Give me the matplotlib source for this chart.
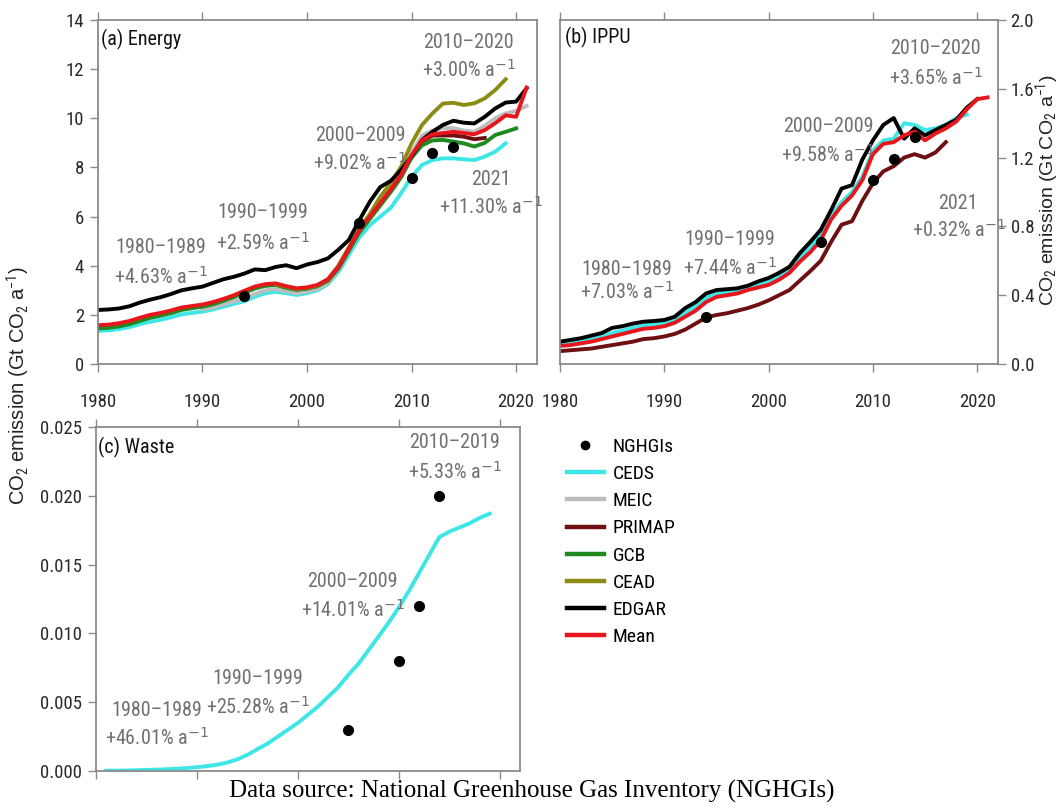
import matplotlib
matplotlib.use("Agg")
import matplotlib.pyplot as plt
from matplotlib import font_manager
from matplotlib.lines import Line2D

# data
years_all = list(range(1980, 2022))

# (a) Energy, Gt CO2 / yr
energy_edgar = [2.20, 2.22, 2.26, 2.35, 2.50, 2.62, 2.72, 2.85, 3.00, 3.08,
                3.15, 3.30, 3.45, 3.55, 3.68, 3.85, 3.82, 3.95, 4.02, 3.90,
                4.05, 4.15, 4.30, 4.65, 5.05, 5.85, 6.60, 7.20, 7.45, 7.90,
                8.45, 9.12, 9.45, 9.73, 9.90, 9.82, 9.79, 10.06, 10.40, 10.64,
                10.68, 11.22]
energy_mean = [1.58, 1.60, 1.66, 1.75, 1.88, 2.00, 2.08, 2.18, 2.30, 2.36,
               2.42, 2.52, 2.65, 2.80, 2.98, 3.15, 3.25, 3.28, 3.17, 3.08,
               3.12, 3.22, 3.45, 3.95, 4.70, 5.45, 6.00, 6.55, 7.10, 7.70,
               8.50, 9.10, 9.35, 9.40, 9.45, 9.40, 9.35, 9.52, 9.80, 10.12,
               10.06, 11.25]
energy_ceds = [1.35, 1.37, 1.42, 1.50, 1.62, 1.72, 1.80, 1.90, 2.02, 2.08,
               2.13, 2.22, 2.33, 2.45, 2.55, 2.74, 2.88, 2.94, 2.88, 2.81,
               2.88, 3.00, 3.25, 3.75, 4.45, 5.15, 5.65, 6.00, 6.35, 6.95,
               7.62, 8.10, 8.30, 8.37, 8.37, 8.33, 8.30, 8.44, 8.64, 8.98]
energy_meic_years = list(range(1990, 2022))
energy_meic = [2.22, 2.30, 2.42, 2.55, 2.67, 2.85, 3.00, 3.05, 2.95, 2.88,
               2.95, 3.05, 3.30, 3.85, 4.60, 5.35, 5.95, 6.50, 7.05, 7.70,
               8.60, 9.30, 9.50, 9.60, 9.60, 9.50, 9.45, 9.70, 10.00, 10.20,
               10.30, 10.50]
energy_primap = [1.55, 1.58, 1.63, 1.72, 1.85, 1.97, 2.05, 2.15, 2.27, 2.33,
                 2.38, 2.48, 2.62, 2.76, 2.94, 3.10, 3.20, 3.24, 3.12, 3.03,
                 3.08, 3.18, 3.40, 3.90, 4.65, 5.40, 5.95, 6.50, 7.05, 7.65,
                 8.45, 9.05, 9.30, 9.30, 9.30, 9.25, 9.15, 9.20]
energy_gcb = [1.45, 1.47, 1.53, 1.62, 1.75, 1.88, 1.97, 2.07, 2.20, 2.27,
              2.33, 2.43, 2.57, 2.72, 2.90, 3.07, 3.18, 3.22, 3.10, 3.02,
              3.07, 3.17, 3.40, 3.90, 4.62, 5.35, 5.90, 6.45, 7.00, 7.60,
              8.40, 8.90, 9.10, 9.12, 9.05, 8.98, 8.85, 9.00, 9.32, 9.45,
              9.59]
energy_cead_years = list(range(1997, 2020))
energy_cead = [3.25, 3.15, 3.05, 3.10, 3.20, 3.45, 4.00, 4.75, 5.50, 6.10,
               6.80, 7.36, 8.03, 8.98, 9.73, 10.20, 10.60, 10.63, 10.54, 10.61,
               10.81, 11.15, 11.59]
energy_nghgi_years = [1994, 2005, 2010, 2012, 2014]
energy_nghgi = [2.75, 5.73, 7.55, 8.60, 8.85]

# (b) IPPU
ippu_edgar = [0.13, 0.14, 0.15, 0.165, 0.18, 0.21, 0.22, 0.235, 0.246, 0.25,
              0.256, 0.275, 0.325, 0.36, 0.41, 0.43, 0.435, 0.44, 0.455, 0.48,
              0.50, 0.53, 0.565, 0.645, 0.71, 0.78, 0.895, 1.02, 1.04, 1.19,
              1.30, 1.39, 1.43, 1.31, 1.37, 1.33, 1.36, 1.39, 1.42, 1.49,
              1.54]
ippu_mean = [0.105, 0.11, 0.12, 0.13, 0.145, 0.16, 0.175, 0.19, 0.205, 0.21,
             0.22, 0.24, 0.275, 0.31, 0.36, 0.39, 0.40, 0.41, 0.43, 0.445,
             0.46, 0.49, 0.53, 0.595, 0.65, 0.72, 0.84, 0.92, 0.98, 1.07,
             1.22, 1.28, 1.29, 1.33, 1.35, 1.30, 1.34, 1.37, 1.41, 1.48,
             1.54, 1.55]
ippu_ceds = [0.12, 0.125, 0.135, 0.145, 0.16, 0.18, 0.195, 0.21, 0.225, 0.23,
             0.24, 0.26, 0.30, 0.335, 0.385, 0.41, 0.42, 0.43, 0.445, 0.46,
             0.48, 0.51, 0.55, 0.62, 0.68, 0.75, 0.86, 0.94, 1.00, 1.09,
             1.24, 1.30, 1.31, 1.40, 1.39, 1.36, 1.37, 1.39, 1.43, 1.45]
ippu_primap = [0.075, 0.08, 0.085, 0.09, 0.10, 0.11, 0.12, 0.13, 0.145, 0.15,
               0.16, 0.175, 0.20, 0.235, 0.27, 0.285, 0.295, 0.31, 0.325, 0.345,
               0.37, 0.40, 0.43, 0.485, 0.54, 0.60, 0.71, 0.81, 0.83, 0.95,
               1.05, 1.12, 1.15, 1.20, 1.22, 1.20, 1.23, 1.29]
ippu_nghgi_years = [1994, 2005, 2010, 2012, 2014]
ippu_nghgi = [0.275, 0.71, 1.07, 1.19, 1.32]

# (c) Waste
waste_years = list(range(1981, 2020))
waste_ceds = [0.00002, 0.00003, 0.00004, 0.00006, 0.00008, 0.0001, 0.00013,
              0.00017, 0.00022, 0.00028, 0.00036, 0.00046, 0.00062, 0.00085,
              0.00118, 0.0016, 0.0020, 0.0025, 0.0030, 0.0035, 0.0041, 0.0047,
              0.0054, 0.0061, 0.0070, 0.0078, 0.0088, 0.0098, 0.0108, 0.0119,
              0.0131, 0.0144, 0.0157, 0.0170, 0.0174, 0.0177, 0.0180, 0.0184,
              0.0187]
waste_nghgi_years = [2005, 2010, 2012, 2014]
waste_nghgi = [0.003, 0.008, 0.012, 0.020]

# growth-rate notes: (period, rate)
notes_a = [("1980\u20131989", "+4.63%"), ("1990\u20131999", "+2.59%"),
           ("2000\u20132009", "+9.02%"), ("2010\u20132020", "+3.00%"),
           ("2021", "+11.30%")]
notes_b = [("1980\u20131989", "+7.03%"), ("1990\u20131999", "+7.44%"),
           ("2000\u20132009", "+9.58%"), ("2010\u20132020", "+3.65%"),
           ("2021", "+0.32%")]
notes_c = [("1980\u20131989", "+46.01%"), ("1990\u20131999", "+25.28%"),
           ("2000\u20132009", "+14.01%"), ("2010\u20132019", "+5.33%")]

legend_labels = ["NGHGIs", "CEDS", "MEIC", "PRIMAP", "GCB", "CEAD", "EDGAR", "Mean"]
colors = {"CEDS": "#3ee6e6", "MEIC": "#bdbdbd", "PRIMAP": "#6e0f12",
          "GCB": "#1f8a1f", "CEAD": "#8c8c14", "EDGAR": "#000000",
          "Mean": "#e8161c"}

# look for a narrow / condensed sans face, the reference uses one
narrow = None
for want in ["Liberation Sans Narrow", "Arial Narrow", "Roboto Condensed",
             "Noto Sans", "Open Sans", "Roboto", "Inter"]:
    for f in font_manager.fontManager.ttflist:
        if f.style != "normal" or f.weight not in (400, "normal", "regular"):
            continue
        cond = f.stretch in ("condensed", "semi-condensed") or "Narrow" in f.name \
            or "Condensed" in f.name
        if f.name.startswith(want) and cond:
            narrow = f
            break
    if narrow is not None:
        break

if narrow is not None:
    base_font = font_manager.FontProperties(fname=narrow.fname)
    plt.rcParams["mathtext.rm"] = ":file=" + narrow.fname
    SCALE = 1.0
else:
    base_font = font_manager.FontProperties(family="Liberation Sans")
    plt.rcParams["mathtext.rm"] = "Liberation Sans"
    SCALE = 0.88
plt.rcParams["font.family"] = ["Liberation Sans", "DejaVu Sans"]
plt.rcParams["mathtext.fontset"] = "custom"
plt.rcParams["mathtext.it"] = plt.rcParams["mathtext.rm"]


def fp(size):
    p = base_font.copy()
    p.set_size(size * SCALE)
    return p


NOTE_C = "#707070"
SPINE_C = "#8a8a8a"
LW = 2.8

fig = plt.figure(figsize=(10.59, 8.10), dpi=100)
ax_a = fig.add_axes([0.0925, 0.5506, 0.4146, 0.4247])
ax_b = fig.add_axes([0.5288, 0.5506, 0.4136, 0.4247])
ax_c = fig.add_axes([0.0907, 0.0481, 0.4004, 0.4247])


def style(ax):
    for s in ax.spines.values():
        s.set_color(SPINE_C)
        s.set_linewidth(1.3)
    ax.set_xlim(1980, 2022)
    ax.set_xticks(range(1980, 2021, 10))
    ax.tick_params(axis="both", direction="out", length=6, width=1,
                   color=SPINE_C, labelcolor="#2a2a2a")
    ax.tick_params(axis="x", top=True, pad=15)
    ax.tick_params(axis="y", pad=4)
    for lab in ax.get_xticklabels() + ax.get_yticklabels():
        lab.set_fontproperties(fp(13.5))


def note(ax, x, y1, y2, head, rate):
    ax.text(x, y1, head, ha="center", va="center", fontproperties=fp(14.5), color=NOTE_C)
    ax.text(x, y2, rate + r" a$^{-1}$", ha="center", va="center",
            fontproperties=fp(14.5), color=NOTE_C)


# (a) Energy
ax_a.plot(years_all[:40], energy_ceds, color=colors["CEDS"], lw=LW)
ax_a.plot(energy_meic_years, energy_meic, color=colors["MEIC"], lw=LW)
ax_a.plot(years_all[:38], energy_primap, color=colors["PRIMAP"], lw=LW)
ax_a.plot(years_all[:41], energy_gcb, color=colors["GCB"], lw=LW)
ax_a.plot(energy_cead_years, energy_cead, color=colors["CEAD"], lw=LW)
ax_a.plot(years_all, energy_edgar, color=colors["EDGAR"], lw=LW)
ax_a.plot(years_all, energy_mean, color=colors["Mean"], lw=LW)
ax_a.plot(energy_nghgi_years, energy_nghgi, "o", color="black", ms=7, zorder=5)
ax_a.set_ylim(0, 14)
ax_a.set_yticks(range(0, 15, 2))
style(ax_a)
ax_a.text(0.006, 0.942, "(a) Energy", transform=ax_a.transAxes, fontproperties=fp(14.5),
          va="center", color="#111111")
for (head, rate), (x, y1, y2) in zip(notes_a, [(1986.0, 4.76, 3.54), (1995.8, 6.15, 4.92),
                                               (2005.1, 9.32, 8.18), (2015.45, 13.1, 11.97),
                                               (2017.6, 7.49, 6.39)]):
    note(ax_a, x, y1, y2, head, rate)

# (b) IPPU
ax_b.plot(years_all[:40], ippu_ceds, color=colors["CEDS"], lw=LW)
ax_b.plot(years_all[:38], ippu_primap, color=colors["PRIMAP"], lw=LW)
ax_b.plot(years_all[:41], ippu_edgar, color=colors["EDGAR"], lw=LW)
ax_b.plot(years_all, ippu_mean, color=colors["Mean"], lw=LW)
ax_b.plot(ippu_nghgi_years, ippu_nghgi, "o", color="black", ms=7, zorder=5)
ax_b.set_ylim(0, 2.0)
ax_b.set_yticks([0.0, 0.4, 0.8, 1.2, 1.6, 2.0])
ax_b.set_yticklabels(["%.1f" % v for v in [0.0, 0.4, 0.8, 1.2, 1.6, 2.0]])
ax_b.yaxis.tick_right()
style(ax_b)
ax_b.tick_params(axis="y", left=False, right=True, labelleft=False, labelright=True,
                 pad=3)
ax_b.text(0.011, 0.95, "(b) IPPU", transform=ax_b.transAxes, fontproperties=fp(14.5),
          va="center", color="#111111")
for (head, rate), (x, y1, y2) in zip(notes_b, [(1986.4, 0.547, 0.419), (1996.3, 0.721, 0.558),
                                               (2005.7, 1.378, 1.215), (2016.0, 1.837, 1.663),
                                               (2018.2, 0.936, 0.779)]):
    note(ax_b, x, y1, y2, head, rate)

# (c) Waste
ax_c.plot(waste_years, waste_ceds, color=colors["CEDS"], lw=LW)
ax_c.plot(waste_nghgi_years, waste_nghgi, "o", color="black", ms=7, zorder=5)
ax_c.set_ylim(0, 0.025)
ax_c.set_yticks([0.0, 0.005, 0.010, 0.015, 0.020, 0.025])
ax_c.set_yticklabels(["%.3f" % v for v in [0.0, 0.005, 0.010, 0.015, 0.020, 0.025]])
style(ax_c)
ax_c.tick_params(axis="x", labelbottom=False)
ax_c.text(0.004, 0.942, "(c) Waste", transform=ax_c.transAxes, fontproperties=fp(14.5),
          va="center", color="#111111")
for (head, rate), (x, y1, y2) in zip(notes_c, [(1986.05, 0.00443, 0.0024), (1996.0, 0.00676, 0.00465),
                                               (2005.4, 0.01374, 0.0117), (2015.5, 0.02384, 0.02173)]):
    note(ax_c, x, y1, y2, head, rate)

# legend
handles = [Line2D([], [], ls="none", marker="o", color="black", ms=6)]
for name in legend_labels[1:]:
    handles.append(Line2D([], [], color=colors[name], lw=3.2))
fig.legend(handles, legend_labels, loc="upper left",
           bbox_to_anchor=(567 / 1059, 1 - 438 / 810), frameon=False,
           prop=fp(14), handlelength=1.9, handletextpad=0.45,
           labelspacing=0.47, borderpad=0, borderaxespad=0)

ylab = r"CO$_2$ emission (Gt CO$_2$ a$^{-1}$)"
fig.text(18 / 1059, 1 - 386 / 810, ylab, rotation=90, ha="center", va="center",
         fontsize=14.5, family=["Liberation Sans", "DejaVu Sans"], color="#222222")
fig.text(1047 / 1059, 1 - 190 / 810, ylab, rotation=90, ha="center", va="center",
         fontsize=14, family=["Liberation Sans", "DejaVu Sans"], color="#222222")

fig.text(532 / 1059, 1 - 798 / 810,
         "Data source: National Greenhouse Gas Inventory (NGHGIs)",
         ha="center", va="baseline", fontsize=18,
         family=["Liberation Serif", "DejaVu Serif"])

fig.savefig("out.png", dpi=100)
